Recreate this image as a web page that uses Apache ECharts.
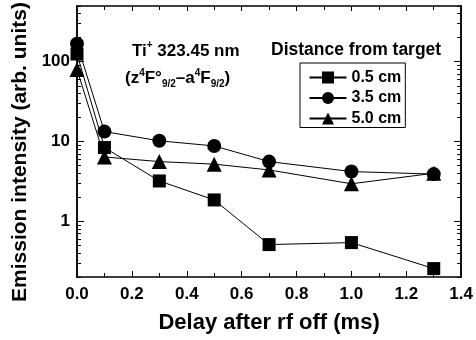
<!DOCTYPE html>
<html><head><meta charset="utf-8">
<script src="https://cdn.jsdelivr.net/npm/echarts@6/dist/echarts.min.js"></script>
<style>html,body{margin:0;padding:0;background:#fff}#c{width:476px;height:340px}</style>
</head><body><div id="c"></div>
<script>
const delays = [0.0, 0.1, 0.3, 0.5, 0.7, 1.0, 1.3];
const seriesNames = ['0.5 cm', '3.5 cm', '5.0 cm'];
const d05 = [125, 8.4, 3.2, 1.85, 0.51, 0.54, 0.255];
const d35 = [168, 13.3, 10.2, 8.8, 5.6, 4.2, 3.9];
const d50 = [80, 6.4, 5.6, 5.2, 4.4, 2.95, 4.0];
const yLabels = [1, 10, 100];
const yMinor = [0.2,0.3,0.4,0.5,0.6,0.7,0.8,0.9,2,3,4,5,6,7,8,9,20,30,40,50,60,70,80,90,200,300,400,500];

const F = '"Liberation Sans", Arial, sans-serif';
const chart = echarts.init(document.getElementById('c'), null, {renderer: 'canvas'});
const pair = (arr) => delays.map((x, i) => [x, arr[i]]);
const symbols = ['rect', 'circle', 'triangle'];
const sizes = [13, 14, 15];
const dataSets = [d05, d35, d50];

const yBase = {
  type: 'log', logBase: 10, min: 0.2, max: 500,
  axisLine: {show: true, lineStyle: {color: '#000', width: 1.5}},
  splitLine: {show: false}, minorTick: {show: false}, minorSplitLine: {show: false}
};
chart.setOption({
  animation: false,
  grid: {left: 77, right: 13, top: 6, bottom: 63, containLabel: false},
  xAxis: [{
    type: 'value', min: 0, max: 1.4, interval: 0.2,
    name: 'Delay after rf off (ms)', nameLocation: 'middle', nameGap: 35,
    nameTextStyle: {fontFamily: F, fontWeight: 'bold', fontSize: 22, color: '#000'},
    axisLine: {lineStyle: {color: '#000', width: 1.5}},
    axisTick: {inside: true, length: 6, lineStyle: {color: '#000'}},
    minorTick: {show: true, splitNumber: 2, length: 4, lineStyle: {color: '#000'}},
    splitLine: {show: false},
    axisLabel: {fontFamily: F, fontWeight: 'bold', fontSize: 17, color: '#000', margin: 9,
      formatter: v => v.toFixed(1)}
  }, {
    type: 'value', min: 0, max: 1.4, interval: 0.2, position: 'top',
    axisLine: {show: true, onZero: false, lineStyle: {color: '#000', width: 1.5}},
    axisTick: {inside: true, length: 5, lineStyle: {color: '#000'}},
    minorTick: {show: true, splitNumber: 2, length: 4, lineStyle: {color: '#000'}},
    splitLine: {show: false}, axisLabel: {show: false}
  }],
  yAxis: [
    Object.assign({}, yBase, {
      position: 'left',
      axisTick: {show: true, inside: true, length: 7, customValues: yLabels, lineStyle: {color: '#000'}},
      axisLabel: {show: true, customValues: yLabels, fontFamily: F, fontWeight: 'bold', fontSize: 17, color: '#000', margin: 7,
        formatter: v => String(Math.round(v))}
    }),
    Object.assign({}, yBase, {
      position: 'left',
      axisTick: {show: true, inside: true, length: 4, customValues: yMinor, lineStyle: {color: '#000'}},
      axisLabel: {show: false}
    }),
    Object.assign({}, yBase, {
      position: 'right',
      axisTick: {show: true, inside: true, length: 7, customValues: yLabels, lineStyle: {color: '#000'}},
      axisLabel: {show: false}
    }),
    Object.assign({}, yBase, {
      position: 'right',
      axisTick: {show: true, inside: true, length: 4, customValues: yMinor, lineStyle: {color: '#000'}},
      axisLabel: {show: false}
    })
  ],
  legend: {
    orient: 'vertical', left: 300, top: 63,
    data: seriesNames,
    itemWidth: 37, itemHeight: 15, itemGap: 4.5,
    borderColor: '#000', borderWidth: 1, padding: [6.5, 4, 1, 8.5],
    textStyle: {fontFamily: F, fontWeight: 'bold', fontSize: 16, lineHeight: 15, color: '#000'}
  },
  graphic: [
    {type: 'text', x: 20, y: 152, rotation: Math.PI / 2,
      style: {text: 'Emission intensity (arb. units)', font: 'bold 21px ' + F, fill: '#000',
        align: 'center', verticalAlign: 'middle'}},
    {type: 'text', x: 132, y: 40, style: {
      text: '{b|Ti}{sup|+}{b| 323.45 nm}', fill: '#000',
      rich: {
        b: {font: 'bold 17px ' + F, fill: '#000', verticalAlign: 'bottom', lineHeight: 20},
        sup: {font: 'bold 10px ' + F, fill: '#000', verticalAlign: 'top', lineHeight: 20, padding: [0, 0, 8, 0]}
      }}},
    {type: 'text', x: 125, y: 66, style: {
      text: '{b|(z}{sup|4}{b|F°}{sub|9/2}{b|–a}{sup|4}{b|F}{sub|9/2}{b|)}', fill: '#000',
      rich: {
        b: {font: 'bold 17px ' + F, fill: '#000', lineHeight: 24, verticalAlign: 'middle'},
        sup: {font: 'bold 10px ' + F, fill: '#000', lineHeight: 24, padding: [0, 0, 10, 0], verticalAlign: 'middle'},
        sub: {font: 'bold 10px ' + F, fill: '#000', lineHeight: 24, padding: [13, 0, 0, 0], verticalAlign: 'middle'}
      }}},
    {type: 'text', x: 271, y: 41, style: {text: 'Distance from target', font: 'bold 17.5px ' + F, fill: '#000'}}
  ],
  series: seriesNames.map((n, i) => ({
    name: n, type: 'line', data: pair(dataSets[i]), xAxisIndex: 0, yAxisIndex: 0,
    symbol: symbols[i], symbolSize: sizes[i], showAllSymbols: true,
    lineStyle: {color: '#000', width: 1}, itemStyle: {color: '#000'},
    clip: false
  }))
});
</script></body></html>
